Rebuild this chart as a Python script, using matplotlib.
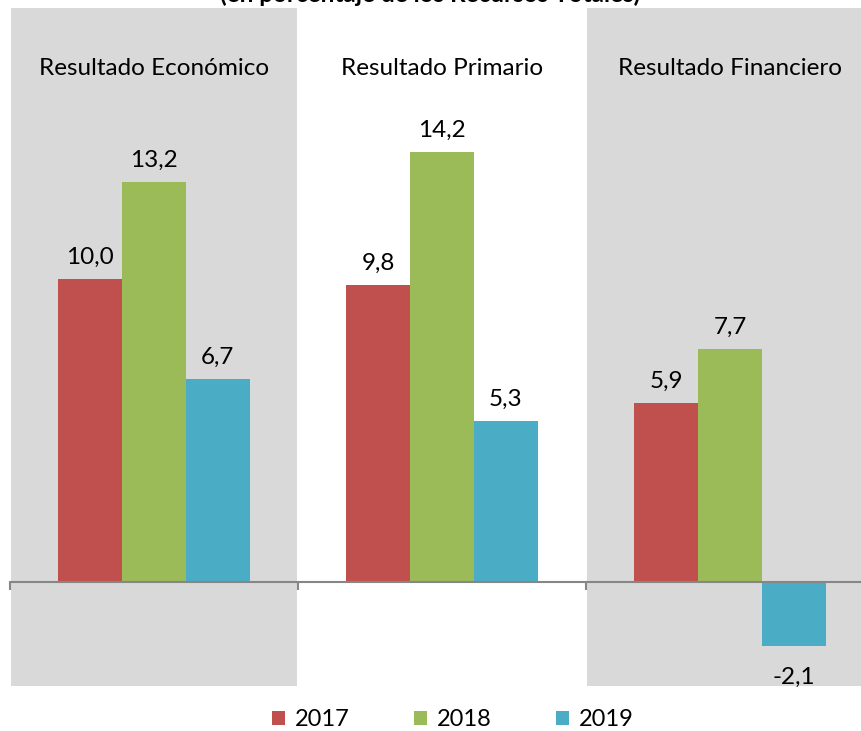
import matplotlib
matplotlib.use("Agg")
import matplotlib.pyplot as plt
from matplotlib.patches import Patch

categories = ["Resultado Económico", "Resultado Primario", "Resultado Financiero"]
years = ["2017", "2018", "2019"]
values = {
    "2017": [10.0, 9.8, 5.9],
    "2018": [13.2, 14.2, 7.7],
    "2019": [6.7, 5.3, -2.1],
}
colors = {"2017": "#C0504D", "2018": "#9BBB59", "2019": "#4BACC6"}
title = "(en porcentaje de los Recursos Totales)"

plt.rcParams['font.family'] = ['Lato', 'DejaVu Sans']

W, H = 862, 731
fig = plt.figure(figsize=(W / 100, H / 100), dpi=100)
ax = fig.add_axes([10 / W, 1 - 686 / H, 864 / W, 678 / H])
ax.set_xlim(-0.5, 2.5)
ax.set_ylim(-3.43, 18.94)

# gray panels for first and third categories
for i in (0, 2):
    ax.axvspan(i - 0.5 + 0.004, i + 0.5 - 0.004, color="#D9D9D9", zorder=0, lw=0)

FS = 17.5
bw = 0.222
for j, y in enumerate(years):
    xs = [i + (j - 1) * bw for i in range(len(categories))]
    ax.bar(xs, values[y], width=bw, color=colors[y], zorder=2, label=y, lw=0)
    for x, v in zip(xs, values[y]):
        txt = f"{v:.1f}".replace(".", ",")
        if v >= 0:
            ax.annotate(txt, (x, v), xytext=(0, 8), textcoords="offset points",
                        ha="center", va="bottom", fontsize=FS)
        else:
            ax.annotate(txt, (x, v), xytext=(0, -15), textcoords="offset points",
                        ha="center", va="top", fontsize=FS)

for i, c in enumerate(categories):
    ax.text(i, 16.96, c, ha="center", va="center", fontsize=FS)

for s in ["top", "left", "right"]:
    ax.spines[s].set_visible(False)
ax.spines["bottom"].set_position(("data", 0))
ax.spines["bottom"].set_color("#868686")
ax.spines["bottom"].set_linewidth(1.5)
ax.spines["bottom"].set_zorder(3)
ax.set_xticks([-0.5, 0.5, 1.5, 2.5])
ax.set_xticklabels([])
ax.tick_params(axis="x", direction="out", length=6, width=1.5, color="#868686")
ax.set_yticks([])

fig.text(430 / W, 1 - 2 / H, title, ha="center", va="baseline", fontsize=17.5, fontweight="bold")

handles = [Patch(facecolor=colors[y], edgecolor="none") for y in years]
fig.legend(handles, years, loc="center", bbox_to_anchor=(453 / W, 1 - 720 / H), ncol=3,
           frameon=False, fontsize=17, handlelength=0.55, handleheight=0.55,
           handletextpad=0.4, columnspacing=2.75)

fig.savefig("out.png", dpi=100)
